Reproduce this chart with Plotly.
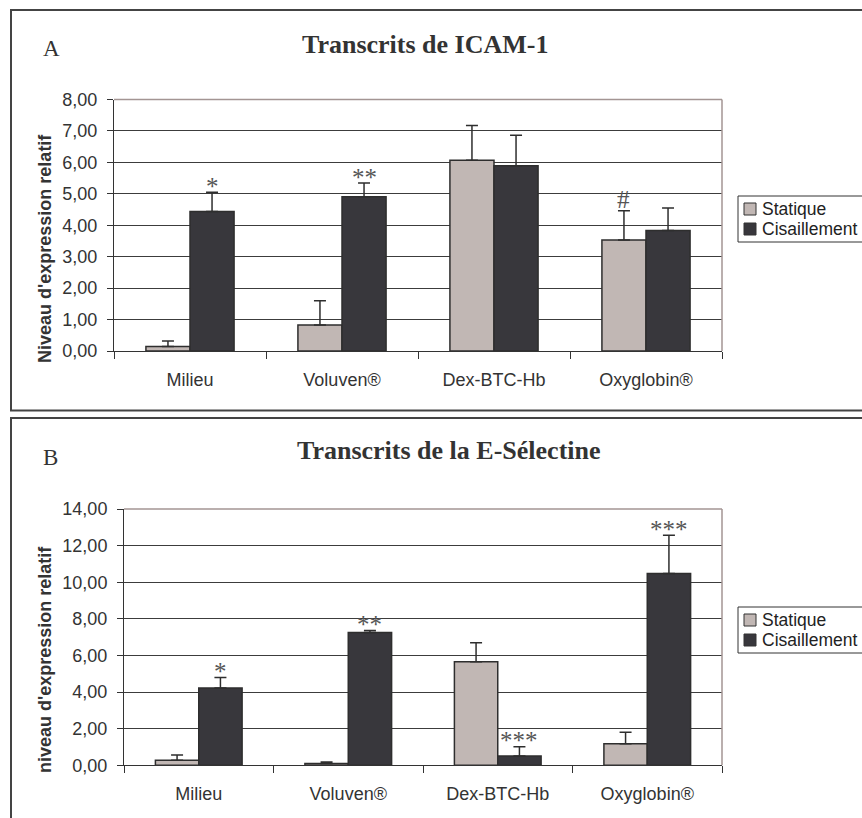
import plotly.graph_objects as go

# ---------------- data ----------------
categories = ["Milieu", "Voluven®", "Dex-BTC-Hb", "Oxyglobin®"]
series_names = ["Statique", "Cisaillement"]

# Panel A : Transcrits de ICAM-1
icam_statique = [0.14, 0.83, 6.07, 3.53]
icam_statique_err = [0.18, 0.77, 1.10, 0.93]
icam_cis = [4.44, 4.91, 5.89, 3.83]
icam_cis_err = [0.61, 0.43, 0.97, 0.72]
icam_sig_statique = ["", "", "", "#"]
icam_sig_cis = ["*", "**", "", ""]
icam_ticks = [0, 1, 2, 3, 4, 5, 6, 7, 8]

# Panel B : Transcrits de la E-Sélectine
esel_statique = [0.28, 0.10, 5.66, 1.18]
esel_statique_err = [0.28, 0.08, 1.04, 0.62]
esel_cis = [4.22, 7.26, 0.51, 10.47]
esel_cis_err = [0.58, 0.11, 0.51, 2.09]
esel_sig_statique = ["", "", "", ""]
esel_sig_cis = ["*", "**", "***", "***"]
esel_ticks = [0, 2, 4, 6, 8, 10, 12, 14]

title_A = "Transcrits de ICAM-1"
title_B = "Transcrits de la E-Sélectine"
ytitle_A = "Niveau d'expression relatif"
ytitle_B = "niveau d'expression relatif"

# ---------------- style ----------------
W, H = 862, 818
COL_STAT = "#c1b7b4"
COL_CIS = "#38373c"
EDGE = "#2e2e2e"
GRID = "#3c3c3c"
FRAME = "#a39593"
SANS = "Liberation Sans, Arial, sans-serif"
SERIF = "Liberation Serif, Times New Roman, serif"
BARGAP = 0.42
COLORS = [COL_STAT, COL_CIS]


def px(x):
    return x / W


def py(y):
    return 1 - y / H


fig = go.Figure()


def add_panel(stat, stat_err, cis, cis_err, xa, ya):
    for name, vals, errs, col in [
        (series_names[0], stat, stat_err, COL_STAT),
        (series_names[1], cis, cis_err, COL_CIS),
    ]:
        fig.add_trace(go.Bar(
            x=categories, y=vals, name=name, xaxis=xa, yaxis=ya,
            showlegend=False,
            marker=dict(color=col, line=dict(color=EDGE, width=1.5)),
            error_y=dict(type="data", array=errs, symmetric=False,
                         arrayminus=[0] * len(errs), color=EDGE,
                         thickness=1.5, width=6),
        ))


add_panel(icam_statique, icam_statique_err, icam_cis, icam_cis_err, "x", "y")
add_panel(esel_statique, esel_statique_err, esel_cis, esel_cis_err, "x2", "y2")

axis_common_x = dict(
    type="category", showline=True, linecolor="#333", linewidth=1,
    ticks="outside", tickson="boundaries", ticklen=7, tickcolor="#333",
    tickfont=dict(family=SANS, size=18, color="#333"), showgrid=False,
    ticklabelstandoff=12,
)
axis_common_y = dict(
    showline=True, linecolor="#333", linewidth=1, ticks="outside",
    ticklen=6, tickcolor="#333", tickformat=".2f",
    tickfont=dict(family=SANS, size=18, color="#333"),
    showgrid=True, gridcolor=GRID, gridwidth=1, zeroline=False,
    ticklabelstandoff=6,
)

fig.update_layout(
    width=W, height=H,
    margin=dict(l=0, r=0, t=0, b=0, autoexpand=False),
    paper_bgcolor="white", plot_bgcolor="white",
    separators=", ", barmode="group", bargap=BARGAP, bargroupgap=0,
    showlegend=False,
    xaxis=dict(domain=[px(114), px(722)], anchor="y", **axis_common_x),
    yaxis=dict(domain=[py(351), py(99.5)], anchor="x", range=[0, 8],
               tickvals=icam_ticks, **axis_common_y),
    xaxis2=dict(domain=[px(124), px(722)], anchor="y2", **axis_common_x),
    yaxis2=dict(domain=[py(765.3), py(509)], anchor="x2", range=[0, 14],
                tickvals=esel_ticks, **axis_common_y),
)

shapes = []
ann = []
# outer frames
shapes.append(dict(type="rect", xref="paper", yref="paper",
                   x0=px(11), x1=px(880), y0=py(410.5), y1=py(10),
                   line=dict(color="#444", width=2)))
shapes.append(dict(type="rect", xref="paper", yref="paper",
                   x0=px(11), x1=px(880), y0=py(840), y1=py(418),
                   line=dict(color="#444", width=2)))
# plot-area top/right borders
for xa, ya in [("x", "y"), ("x2", "y2")]:
    shapes.append(dict(type="line", xref=xa + " domain", yref=ya + " domain",
                       x0=0, x1=1, y0=1, y1=1, line=dict(color=FRAME, width=1.5)))
    shapes.append(dict(type="line", xref=xa + " domain", yref=ya + " domain",
                       x0=1, x1=1, y0=0, y1=1, line=dict(color=FRAME, width=1.5)))


# legends (box + swatches + real text labels)
def add_legend(top):
    shapes.append(dict(type="rect", xref="paper", yref="paper",
                       x0=px(738), x1=px(880), y0=py(top + 46), y1=py(top),
                       line=dict(color="#333", width=1), fillcolor="white",
                       layer="above"))
    for k, (name, col) in enumerate(zip(series_names, COLORS)):
        cy = top + 13 + 20 * k
        shapes.append(dict(type="rect", xref="paper", yref="paper",
                           x0=px(744), x1=px(756), y0=py(cy + 6), y1=py(cy - 6),
                           line=dict(color="#333", width=1), fillcolor=col,
                           layer="above"))
        ann.append(dict(text=name, x=px(760), y=py(cy), xref="paper",
                        yref="paper", xanchor="left", yanchor="middle",
                        showarrow=False,
                        font=dict(family=SANS, size=17.5, color="#222")))


add_legend(196)
add_legend(607)

fig.update_layout(shapes=shapes)

# panel letters & titles
ann.append(dict(text="A", x=px(51), y=py(48), xref="paper", yref="paper",
                xanchor="center", yanchor="middle", showarrow=False,
                font=dict(family=SERIF, size=23, color="#333")))
ann.append(dict(text="B", x=px(50), y=py(457), xref="paper", yref="paper",
                xanchor="center", yanchor="middle", showarrow=False,
                font=dict(family=SERIF, size=23, color="#333")))
ann.append(dict(text="<b>" + title_A + "</b>", x=px(300), y=py(45),
                xref="paper", yref="paper", xanchor="left", yanchor="middle",
                showarrow=False, font=dict(family=SERIF, size=26, color="#333")))
ann.append(dict(text="<b>" + title_B + "</b>", x=px(295), y=py(450),
                xref="paper", yref="paper", xanchor="left", yanchor="middle",
                showarrow=False, font=dict(family=SERIF, size=26, color="#333")))
# y-axis titles
ann.append(dict(text="<b>" + ytitle_A + "</b>", x=px(45), y=py(249),
                xref="paper", yref="paper", xanchor="center", yanchor="middle",
                textangle=-90, showarrow=False,
                font=dict(family=SANS, size=18, color="#333")))
ann.append(dict(text="<b>" + ytitle_B + "</b>", x=px(45), y=py(660),
                xref="paper", yref="paper", xanchor="center", yanchor="middle",
                textangle=-90, showarrow=False,
                font=dict(family=SANS, size=18, color="#333")))

# significance marks above error bars
offset = (1 - BARGAP) / 4


def add_sig(marks, vals, errs, sign, xa, ya):
    for i, (m, v, e) in enumerate(zip(marks, vals, errs)):
        if not m:
            continue
        ann.append(dict(text=m, x=i + sign * offset, y=v + e, xref=xa, yref=ya,
                        xanchor="center", yanchor="middle",
                        showarrow=False, yshift=6 if m != "#" else 11,
                        font=dict(family=SERIF, size=25, color="#555")))


add_sig(icam_sig_statique, icam_statique, icam_statique_err, -1, "x", "y")
add_sig(icam_sig_cis, icam_cis, icam_cis_err, 1, "x", "y")
add_sig(esel_sig_statique, esel_statique, esel_statique_err, -1, "x2", "y2")
add_sig(esel_sig_cis, esel_cis, esel_cis_err, 1, "x2", "y2")

fig.update_layout(annotations=ann)

fig.write_html(
    "out.html",
    config={"displayModeBar": False},
    post_script="document.body.style.margin='0';document.body.style.overflow='hidden';",
)
